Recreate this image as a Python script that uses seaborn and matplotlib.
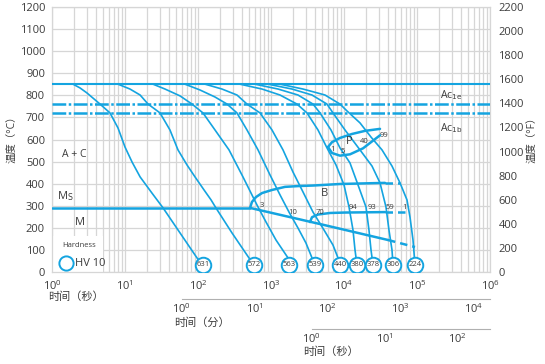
import matplotlib
matplotlib.use("Agg")
import matplotlib.pyplot as plt
import seaborn as sns
import pandas as pd
from matplotlib.ticker import MultipleLocator, LogLocator, FixedLocator, NullFormatter
from matplotlib.patches import Rectangle

sns.set_style("white")
plt.rcParams['font.family'] = ['Open Sans', 'Noto Sans CJK SC', 'DejaVu Sans']

BLUE = "#14a4e0"
TXT = "#3c3c3c"
GRID = "#d6d6d6"

# cooling curves, time (s) / temperature (degC), named by hardness HV10
t_631 = [1.94, 2.42, 3.02, 4.55, 6.23, 8.02, 10.0, 12.5, 16.1, 23.4, 33.2, 56.7, 96.9, 117]
T_631 = [850, 833, 810, 760, 720, 652, 566, 498, 431, 358, 291, 178, 65, 33]
t_572 = [8.02, 11.7, 16.1, 20.7, 30.2, 41.3, 53.2, 70.7, 91.0, 121, 151, 176, 292, 499, 585]
T_572 = [850, 828, 801, 760, 720, 643, 553, 485, 431, 372, 327, 291, 178, 65, 33]
t_563 = [24.2, 35.3, 56.7, 82.8, 117, 171, 266, 413, 643, 855, 1170, 1710, 1765]
T_563 = [850, 828, 797, 760, 720, 643, 553, 431, 304, 227, 146, 65, 33]
t_539 = [66.3, 106, 171, 250, 342, 469, 664, 969, 1328, 1765, 2344, 3016, 3645, 4006]
T_539 = [850, 824, 792, 760, 720, 643, 553, 440, 350, 272, 200, 132, 65, 33]
t_440 = [125, 213, 342, 469, 707, 1032, 1460, 2001, 2743, 3761, 5324, 7068, 8277, 8815]
T_440 = [850, 828, 801, 760, 720, 643, 553, 453, 363, 272, 191, 123, 65, 33]
t_380 = [376, 753, 1328, 2270, 3112, 4404, 5849, 7770, 10000, 11710, 13280, 14150, 15070]
T_380 = [850, 828, 801, 760, 720, 643, 562, 485, 395, 295, 191, 101, 33]
t_378 = [604, 1247, 2344, 3761, 4693, 6634, 8815, 12080, 15550, 20010, 21980, 23440, 24960]
T_378 = [850, 828, 801, 760, 720, 643, 562, 494, 395, 295, 191, 101, 33]
t_306 = [910, 1940, 3645, 5849, 7068, 10320, 16560, 24190, 31140, 37590, 41300, 45450, 46920]
T_306 = [850, 828, 801, 760, 720, 643, 553, 480, 404, 295, 191, 101, 33]
t_224 = [1328, 2743, 5492, 8815, 10990, 16560, 23440, 33160, 45450, 58490, 72940, 80190, 88150, 93890]
T_224 = [850, 828, 801, 760, 729, 675, 611, 553, 480, 404, 327, 249, 146, 33]

curves = [(631, t_631, T_631), (572, t_572, T_572), (563, t_563, T_563),
          (539, t_539, T_539), (440, t_440, T_440), (380, t_380, T_380),
          (378, t_378, T_378), (306, t_306, T_306), (224, t_224, T_224)]

# transformation lines
Ac1e, Ac1b, A_line, Ms = 760, 720, 850, 290
t_ms = [1, 516]
t_bs = [516, 549, 623, 753, 1032, 1555, 2496, 3761, 8815, 36450]
T_bs = [291, 318, 340, 358, 372, 386, 390, 392, 399, 404]
t_bs_d = [36450, 58490]
T_bs_d = [404, 404]
t_ms2 = [516, 4693, 40060]
T_ms2 = [291, 218, 146]
t_ms2_d = [40060, 93890]
T_ms2_d = [146, 114]
t_bf = [3421, 3645, 4404, 6430, 10320, 36450]
T_bf = [227, 249, 261, 268, 270, 272]
t_bf_d = [36450, 75300]
T_bf_d = [272, 272]
t_ps = [6037, 6848, 8815, 12870, 19400, 31140]
T_ps = [566, 588, 607, 625, 639, 648]
t_pf = [6037, 6848, 8815, 12080, 18200, 31140]
T_pf = [566, 539, 527, 533, 560, 619]

# percentage labels
pct_text = ["3", "10", "70", "94", "93", "59", "1", "1", "5", "40", "99"]
pct_t = [753, 2001, 4693, 13280, 24190, 42670, 68500, 7068, 9690, 18800, 35300]
pct_T = [304, 272, 272, 295, 295, 295, 295, 557, 548, 589, 616]

fig = plt.figure(figsize=(5.45, 3.64), dpi=100)
L, R, TOP, BOT = 52 / 545, 490 / 545, 6.7 / 364, 272.3 / 364
ax = fig.add_axes([L, 1 - BOT, R - L, BOT - TOP])
ax.set_xscale('log')
ax.set_xlim(1, 1e6)
ax.set_ylim(0, 1200)
ax.yaxis.set_major_locator(MultipleLocator(100))
ax.xaxis.set_major_locator(FixedLocator([1, 10, 100, 1e3, 1e4, 1e5, 1e6]))
ax.xaxis.set_minor_locator(LogLocator(base=10, subs=range(2, 10), numticks=100))
ax.xaxis.set_minor_formatter(NullFormatter())
ax.grid(which='both', axis='x', color=GRID, lw=0.9)
ax.grid(which='major', axis='y', color=GRID, lw=0.9)
ax.tick_params(which='both', length=0, labelsize=8, labelcolor=TXT)
ax.tick_params(axis='x', pad=5)
ax.tick_params(axis='y', pad=5)
for s in ax.spines.values():
    s.set_color(GRID)
    s.set_linewidth(0.9)

axr = ax.twinx()
axr.set_ylim(0, 2200)
axr.yaxis.set_major_locator(MultipleLocator(200))
axr.tick_params(length=0, labelsize=8, labelcolor=TXT, pad=6)
for s in axr.spines.values():
    s.set_visible(False)

# hardness legend box
ax.add_patch(Rectangle((1, 0), 4.0, 164, facecolor='white', edgecolor='none', zorder=1.6))

ax.axhline(A_line, color=BLUE, lw=1.5, zorder=3)
for y in (Ac1e, Ac1b):
    ax.axhline(y, color=BLUE, lw=1.8, dashes=(5.5, 1.0, 1.0, 1.0), zorder=3)

for hv, tt, TT in curves:
    sns.lineplot(x=tt, y=TT, ax=ax, color=BLUE, lw=1.2, sort=False, estimator=None, zorder=3)

sns.lineplot(x=t_ms, y=[Ms, Ms], ax=ax, color=BLUE, lw=1.8, sort=False, estimator=None, zorder=3)
for tt, TT in [(t_bs, T_bs), (t_ms2, T_ms2), (t_bf, T_bf), (t_ps, T_ps), (t_pf, T_pf)]:
    sns.lineplot(x=tt, y=TT, ax=ax, color=BLUE, lw=1.8, sort=False, estimator=None, zorder=3)
for tt, TT in [(t_bs_d, T_bs_d), (t_ms2_d, T_ms2_d), (t_bf_d, T_bf_d)]:
    sns.lineplot(x=tt, y=TT, ax=ax, color=BLUE, lw=1.8, sort=False, estimator=None,
                 zorder=3, linestyle=(0, (3, 2)))

ends = pd.DataFrame({'t': [c[1][-1] for c in curves], 'T': [c[2][-1] for c in curves],
                     'hv': [c[0] for c in curves]})
sns.scatterplot(data=ends, x='t', y='T', ax=ax, s=125, color='white', edgecolor=BLUE,
                linewidth=1.4, zorder=4)
for _, r in ends.iterrows():
    ax.text(r['t'], r['T'], str(int(r['hv'])), ha='center', va='center', fontsize=5.5,
            color=TXT, zorder=5)

for s, x, y in zip(pct_text, pct_t, pct_T):
    ax.text(x, y, s, ha='center', va='center', fontsize=5.5, color=TXT, zorder=5)

ax.text(2.0, 530, "A + C", ha='center', va='center', fontsize=7.5, color=TXT)
ax.text(1.17, 345, r"M$_{\mathrm{S}}$", ha='left', va='center', fontsize=8, color=TXT)
ax.text(2.42, 227, "M", ha='center', va='center', fontsize=8, color=TXT)
ax.text(5490, 358, "B", ha='center', va='center', fontsize=8, color=TXT)
ax.text(11710, 589, "P", ha='center', va='center', fontsize=8, color=TXT)
ax.text(206500, 801, r"Ac$_{\mathrm{1e}}$", ha='left', va='center', fontsize=7.5, color=TXT)
ax.text(206500, 652, r"Ac$_{\mathrm{1b}}$", ha='left', va='center', fontsize=7.5, color=TXT)
ax.text(1.37, 119, "Hardness", ha='left', va='center', fontsize=5.5, color=TXT, zorder=5)
sns.scatterplot(x=[1.555], y=[42], ax=ax, s=105, color='white', edgecolor=BLUE, linewidth=1.4, zorder=5)
ax.text(2.07, 42, "HV 10", ha='left', va='center', fontsize=8, color=TXT, zorder=5)
ax.set_xlabel("")
ax.set_ylabel("")

fig.text(13 / 545, 1 - 137 / 364, "温度（°C）", rotation=90, ha='center', va='center',
         fontsize=7.5, color=TXT)
fig.text(533 / 545, 1 - 137 / 364, "温度（°F）", rotation=90, ha='center', va='center',
         fontsize=7.5, color=TXT)
fig.text(48 / 545, 1 - 297 / 364, "时间（秒）", ha='left', va='center', fontsize=8, color=TXT)


def sub_axis(py, scale, label, label_x, label_py, majors):
    a = fig.add_axes([L, 1 - py / 364, R - L, 0.0001])
    a.set_xscale('log')
    a.set_xlim(1 / scale, 1e6 / scale)
    a.set_yticks([])
    for k in ('left', 'right', 'top'):
        a.spines[k].set_visible(False)
    a.spines['bottom'].set_color('#b0b0b0')
    a.spines['bottom'].set_bounds(1, 1e6 / scale)
    a.patch.set_visible(False)
    a.xaxis.set_major_locator(FixedLocator(majors))
    minors = [m * 10 ** k for k in range(len(majors)) for m in range(2, 10)
              if m * 10 ** k <= 1e6 / scale]
    a.xaxis.set_minor_locator(FixedLocator(minors))
    a.xaxis.set_minor_formatter(NullFormatter())
    a.tick_params(axis='x', which='major', direction='in', length=6, color='#b0b0b0',
                  labelsize=8, labelcolor=TXT, pad=2)
    a.tick_params(axis='x', which='minor', direction='in', length=3.5, color='#b0b0b0')
    fig.text(label_x / 545, 1 - label_py / 364, label, ha='left', va='center',
             fontsize=8, color=TXT)


sub_axis(299, 60, "时间（分）", 174, 323, [1, 10, 100, 1000, 10000])
sub_axis(329, 3600, "时间（秒）", 303, 352, [1, 10, 100])

fig.savefig("out.png", dpi=100)
